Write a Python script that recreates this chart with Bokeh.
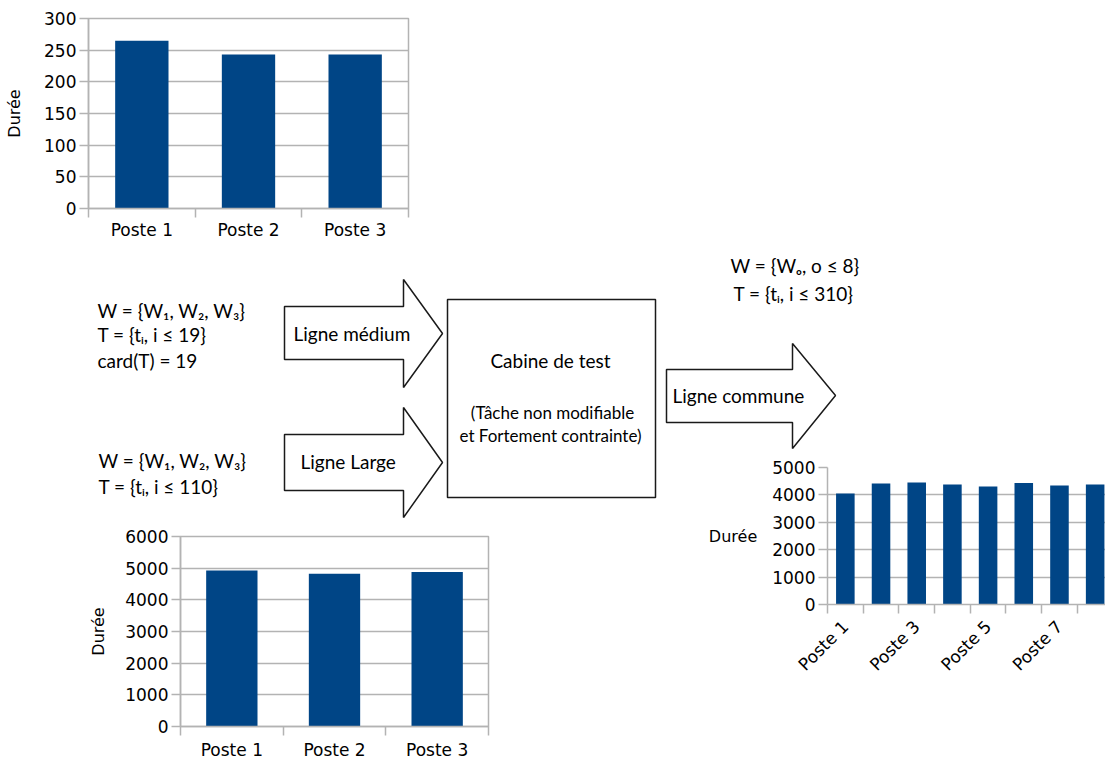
import math
from bokeh.plotting import figure
from bokeh.models import Range1d, FixedTicker, GridBox, Column
from bokeh.embed import file_html
from bokeh.resources import INLINE
from bokeh.core.properties import value

# ---------------- data ----------------
medium_postes = ["Poste 1", "Poste 2", "Poste 3"]
medium_durees = [265, 243, 243]
medium_y_ticks = [0, 50, 100, 150, 200, 250, 300]

large_postes = ["Poste 1", "Poste 2", "Poste 3"]
large_durees = [4930, 4820, 4880]
large_y_ticks = [0, 1000, 2000, 3000, 4000, 5000, 6000]

commune_postes = ["Poste 1", "Poste 2", "Poste 3", "Poste 4",
                  "Poste 5", "Poste 6", "Poste 7", "Poste 8"]
commune_durees = [4050, 4420, 4450, 4380, 4310, 4430, 4340, 4380]
commune_y_ticks = [0, 1000, 2000, 3000, 4000, 5000]

y_label = "Durée"

medium_set_lines = ["W = {W\u2081, W\u2082, W\u2083}", "T = {t\u1d62, i \u2264 19}", "card(T) = 19"]
large_set_lines = ["W = {W\u2081, W\u2082, W\u2083}", "T = {t\u1d62, i \u2264 110}"]
commune_set_lines = ["W = {W\u2092, o \u2264 8}", "T = {t\u1d62, i \u2264 310}"]
arrow_labels = ["Ligne médium", "Ligne Large", "Ligne commune"]
cabine_lines = ["Cabine de test", "(Tâche non modifiable", "et Fortement contrainte)"]

# ---------------- styles ----------------
BAR = "#004586"
GRID = "#b3b3b3"
TICK_FONT = "DejaVu Sans"
DIAG_FONT = "Lato"
PAGE_W, PAGE_H = 1105, 762


def bar_chart(cats, vals, yticks, width, height, bl, bt, br, bb, x_end,
              label_step=1, bar_w=0.5, rot=None, ylab_std=15,
              ylab_horizontal=False, xlab_std=2, outline=True):
    n = len(cats)
    xs = list(range(n))
    p = figure(width=width, height=height,
               x_range=Range1d(-0.5, x_end), y_range=Range1d(yticks[0], yticks[-1]),
               output_backend="svg", toolbar_location=None,
               min_border_left=bl, min_border_top=bt,
               min_border_right=br, min_border_bottom=bb)
    p.border_fill_color = None
    p.background_fill_color = "white"
    p.outline_line_color = GRID if outline else None
    p.outline_line_width = 1.5
    p.vbar(x=xs, top=vals, width=bar_w, fill_color=BAR, line_color=None)

    # x axis: labels at centres, ticks at category boundaries
    labelled = xs[::label_step]
    p.xaxis.ticker = FixedTicker(ticks=labelled,
                                 minor_ticks=[i - 0.5 for i in range(n + 1)])
    p.xaxis.major_label_overrides = {i: cats[i] for i in labelled}
    p.xaxis.major_tick_line_color = None
    p.xaxis.major_tick_out = 0
    p.xaxis.major_tick_in = 0
    p.xaxis.minor_tick_out = 9
    p.xaxis.minor_tick_in = 0
    p.xaxis.minor_tick_line_color = GRID
    p.xaxis.minor_tick_line_width = 1.5
    p.xaxis.axis_line_color = GRID
    p.xaxis.axis_line_width = 1.5
    p.xaxis.major_label_standoff = xlab_std
    p.xaxis.major_label_text_font = TICK_FONT
    p.xaxis.major_label_text_font_size = "17px"
    p.xaxis.major_label_text_color = "black"
    if rot is not None:
        p.xaxis.major_label_orientation = rot
    p.xgrid.visible = False

    # y axis
    p.yaxis.ticker = FixedTicker(ticks=yticks)
    p.yaxis.minor_tick_line_color = None
    p.yaxis.major_tick_out = 9
    p.yaxis.major_tick_in = 0
    p.yaxis.major_tick_line_color = GRID
    p.yaxis.major_tick_line_width = 1.5
    p.yaxis.axis_line_color = GRID
    p.yaxis.axis_line_width = 1.5
    p.yaxis.major_label_standoff = 3
    p.yaxis.major_label_text_font = TICK_FONT
    p.yaxis.major_label_text_font_size = "17px"
    p.yaxis.major_label_text_color = "black"
    p.yaxis.axis_label = y_label
    p.yaxis.axis_label_text_font = TICK_FONT
    p.yaxis.axis_label_text_font_size = "16px"
    p.yaxis.axis_label_text_font_style = "normal"
    p.yaxis.axis_label_text_color = "black"
    p.yaxis.axis_label_standoff = ylab_std
    if ylab_horizontal:
        p.yaxis.axis_label_orientation = "horizontal"
    p.ygrid.grid_line_color = GRID
    p.ygrid.grid_line_width = 1.3
    return p


top = bar_chart(medium_postes, medium_durees, medium_y_ticks,
                418, 253, 88, 18, 10, 45, len(medium_postes) - 0.5,
                ylab_std=17, xlab_std=2)
large = bar_chart(large_postes, large_durees, large_y_ticks,
                  508, 239, 180, 13, 20, 35, len(large_postes) - 0.5,
                  ylab_std=14, xlab_std=4)
commune = bar_chart(commune_postes, commune_durees, commune_y_ticks,
                    407, 238, 129, 15, 0, 86, 7.29,
                    label_step=2, bar_w=0.52, rot=math.pi / 4,
                    ylab_std=12, ylab_horizontal=True, xlab_std=10, outline=False)

# ---------------- diagram background ----------------
bg = figure(width=PAGE_W, height=PAGE_H, x_range=Range1d(0, PAGE_W), y_range=Range1d(PAGE_H, 0),
            output_backend="svg", toolbar_location=None, min_border=0,
            x_axis_type=None, y_axis_type=None)
bg.grid.visible = False
bg.outline_line_color = None

arrow_xs = [
    [284, 403, 403, 442, 403, 403, 284],
    [284, 403, 403, 442, 403, 403, 284],
    [666, 792, 792, 835, 792, 792, 666],
]
arrow_ys = [
    [306, 306, 279, 333, 387, 359, 359],
    [434, 434, 407, 462, 517, 490, 490],
    [369, 369, 343, 395, 448, 422, 422],
]
bg.patches(xs=arrow_xs, ys=arrow_ys, fill_color="white", line_color="#1a1a1a", line_width=1.5)
bg.quad(left=[447], right=[655], top=[299], bottom=[497],
        fill_color="white", line_color="#1a1a1a", line_width=1.5)

left_x = [97, 97, 97, 98, 98, 730, 733, 293, 300, 672]
left_y = [310, 334, 360, 460, 486, 265, 293, 333, 461, 395]
left_t = medium_set_lines + large_set_lines + commune_set_lines + arrow_labels
bg.text(x=left_x, y=left_y, text=left_t, text_font=value(DIAG_FONT),
        text_font_size=value("19px"), text_align="left", text_baseline="middle",
        text_color="black")
bg.text(x=[550], y=[360], text=cabine_lines[:1], text_font=value(DIAG_FONT),
        text_font_size=value("19px"), text_align="center", text_baseline="middle",
        text_color="black")
bg.text(x=[552, 550], y=[412, 435], text=cabine_lines[1:], text_font=value(DIAG_FONT),
        text_font_size=value("17px"), text_align="center", text_baseline="middle",
        text_color="black")


def wrap(fig):
    return Column(children=[fig], width=fig.width, height=fig.height)


layout = GridBox(children=[(wrap(bg), 0, 0, 5, 4), (wrap(top), 0, 0, 1, 1),
                           (wrap(large), 3, 0, 2, 2), (wrap(commune), 2, 3, 2, 1)],
                 rows=["253px", "199px", "71px", "167px", "72px"],
                 cols=["418px", "90px", "190px", "407px"])

open("out.html", "w").write(file_html(layout, INLINE))
